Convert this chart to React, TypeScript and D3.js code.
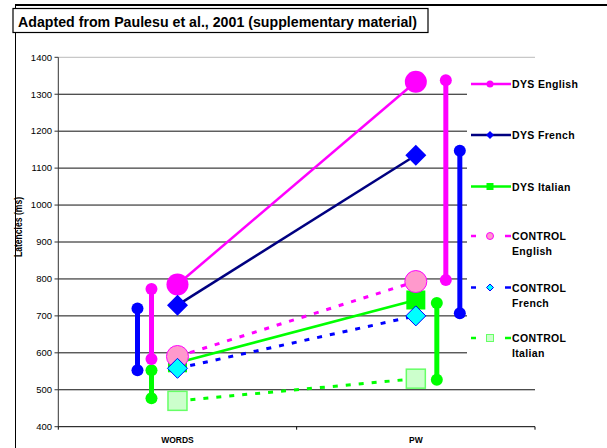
import React from "react";
import * as d3 from "d3";

const categories = ["WORDS", "PW"];
const yTicks = [400, 500, 600, 700, 800, 900, 1000, 1100, 1200, 1300, 1400];

const dysEnglish = [785, 1334];
const dysFrench = [729, 1135];
const dysItalian = [573, 743];
const ctrlEnglish = [590, 793];
const ctrlFrench = [558, 700];
const ctrlItalian = [470, 530];

// vertical ranges (low, high) per category
const rangeEnglishLow = [583, 797];
const rangeEnglishHigh = [773, 1338];
const rangeFrenchLow = [553, 707];
const rangeFrenchHigh = [720, 1147];
const rangeItalianLow = [477, 527];
const rangeItalianHigh = [553, 735];

const legendLabels = [
  ["DYS English"],
  ["DYS French"],
  ["DYS Italian"],
  ["CONTROL", "English"],
  ["CONTROL", "French"],
  ["CONTROL", "Italian"],
];

const W = 607;
const H = 448;
const FONT = "'Liberation Sans', Arial, sans-serif";

const x = d3.scaleBand<string>().domain(categories).range([58.3, 535]);
const y = d3.scaleLinear().domain([400, 1400]).range([426.7, 57.3]);
const cx = (c: string) => (x(c) as number) + x.bandwidth() / 2;

type Marker = "circle" | "diamond" | "square";

function MarkerShape({ kind, px, py, size, fill, stroke, sw }: { kind: Marker; px: number; py: number; size: number; fill: string; stroke: string; sw: number }) {
  if (kind === "circle") return <circle cx={px} cy={py} r={size} fill={fill} stroke={stroke} strokeWidth={sw} />;
  if (kind === "diamond")
    return (
      <path
        d={`M${px},${py - size}L${px + size},${py}L${px},${py + size}L${px - size},${py}Z`}
        fill={fill}
        stroke={stroke}
        strokeWidth={sw}
      />
    );
  return <rect x={px - size} y={py - size} width={size * 2} height={size * 2} fill={fill} stroke={stroke} strokeWidth={sw} />;
}

const series = [
  { values: dysEnglish, line: "#FF00FF", dash: undefined, kind: "circle" as Marker, size: 11, fill: "#FF00FF", stroke: "#FF00FF", sw: 0, lsize: 3.5 },
  { values: dysFrench, line: "#000080", dash: undefined, kind: "diamond" as Marker, size: 10.5, fill: "#0000FF", stroke: "#0000FF", sw: 0, lsize: 4 },
  { values: dysItalian, line: "#00FF00", dash: undefined, kind: "square" as Marker, size: 9.5, fill: "#00FF00", stroke: "#00FF00", sw: 0, lsize: 3.5 },
  { values: ctrlEnglish, line: "#FF00FF", dash: "5,8", kind: "circle" as Marker, size: 11, fill: "#FF99CC", stroke: "#FF00FF", sw: 1, lsize: 3.5 },
  { values: ctrlFrench, line: "#0000FF", dash: "5,8", kind: "diamond" as Marker, size: 10, fill: "#00FFFF", stroke: "#0000FF", sw: 1, lsize: 3.5 },
  { values: ctrlItalian, line: "#00FF00", dash: "5,8", kind: "square" as Marker, size: 9.5, fill: "#CCFFCC", stroke: "#66FF66", sw: 1.5, lsize: 3.5 },
];

const ranges = [
  { low: rangeItalianLow, high: rangeItalianHigh, color: "#00FF00", offsets: [-26, 21] },
  { low: rangeFrenchLow, high: rangeFrenchHigh, color: "#0000FF", offsets: [-40, 44] },
  { low: rangeEnglishLow, high: rangeEnglishHigh, color: "#FF00FF", offsets: [-26, 30] },
];

export default function App() {
  const line = d3
    .line<number>()
    .x((_, i) => cx(categories[i]))
    .y((d) => y(d));

  const legendY = [84, 135, 186.5, 236, 287.5, 338];

  return (
    <svg width={W} height={H} style={{ position: "absolute", left: 0, top: 0, background: "#fff" }} fontFamily={FONT}>
      <rect x={0} y={0} width={W} height={H} fill="#fff" />
      {/* outer frame */}
      <line x1={15} y1={5} x2={W} y2={5} stroke="#000" strokeWidth={2} />
      <line x1={15.5} y1={5} x2={15.5} y2={H} stroke="#000" strokeWidth={1} />
      {/* title box */}
      <rect x={13} y={8.5} width={415} height={24} fill="#fff" stroke="#000" strokeWidth={1.2} />
      <text x={18} y={26.5} fontSize={14.2} fontWeight="bold" fill="#000">
        Adapted from Paulesu et al., 2001 (supplementary material)
      </text>

      {/* gridlines */}
      {yTicks.slice(1).map((t) => (
        <line key={t} x1={58.3} x2={535} y1={y(t)} y2={y(t)} stroke={t === 1400 ? "#bbbbbb" : "#111"} strokeWidth={1} />
      ))}
      {/* axes */}
      <line x1={58.3} x2={58.3} y1={y(1400)} y2={y(400)} stroke="#333" strokeWidth={1} />
      <line x1={58.3} x2={535} y1={y(400)} y2={y(400)} stroke="#000" strokeWidth={1} />
      {yTicks.map((t) => (
        <g key={t}>
          <line x1={54.5} x2={58.3} y1={y(t)} y2={y(t)} stroke="#333" />
          <text x={52} y={y(t) + 3.3} fontSize={9.5} textAnchor="end" fill="#000">
            {t}
          </text>
        </g>
      ))}
      {[x("WORDS") as number, x("PW") as number, 535].map((v, i) => (
        <line key={i} x1={v} x2={v} y1={y(400)} y2={y(400) + 3} stroke="#000" />
      ))}
      {categories.map((c) => (
        <text key={c} x={cx(c)} y={443} fontSize={8.5} fontWeight="bold" textAnchor="middle" fill="#000">
          {c}
        </text>
      ))}
      <text
        transform={`translate(21.5,227) rotate(-90)`}
        fontSize={10}
        fontWeight="bold"
        textAnchor="middle"
        fill="#000"
        textLength={60}
        lengthAdjust="spacingAndGlyphs"
      >
        Latencies (ms)
      </text>

      {/* legend background covering gridlines */}
      <rect x={467} y={58} width={140} height={328} fill="#fff" />

      {/* range bars */}
      {ranges.map((r, ri) =>
        categories.map((c, i) => {
          const px = cx(c) + r.offsets[i];
          return (
            <g key={`${ri}-${c}`}>
              <line x1={px} x2={px} y1={y(r.low[i])} y2={y(r.high[i])} stroke={r.color} strokeWidth={5} />
              <circle cx={px} cy={y(r.low[i])} r={6} fill={r.color} />
              <circle cx={px} cy={y(r.high[i])} r={6} fill={r.color} />
            </g>
          );
        })
      )}

      {/* series lines and markers */}
      {series.map((s, si) => (
        <g key={si}>
          <path d={line(s.values) as string} fill="none" stroke={s.line} strokeWidth={s.dash ? 3 : 2.5} strokeDasharray={s.dash} />
          {s.values.map((v, i) => (
            <MarkerShape key={i} kind={s.kind} px={cx(categories[i])} py={y(v)} size={s.size} fill={s.fill} stroke={s.stroke} sw={s.sw} />
          ))}
        </g>
      ))}

      {/* legend */}
      {series.map((s, si) => {
        const ly = legendY[si];
        const lab = legendLabels[si];
        return (
          <g key={si}>
            {s.dash ? (
              <>
                <line x1={471} x2={476} y1={ly} y2={ly} stroke={s.line} strokeWidth={2.5} />
                <line x1={505} x2={511} y1={ly} y2={ly} stroke={s.line} strokeWidth={2.5} />
              </>
            ) : (
              <line x1={471} x2={511} y1={ly} y2={ly} stroke={s.line} strokeWidth={2.5} />
            )}
            <MarkerShape kind={s.kind} px={490} py={ly} size={s.lsize} fill={s.fill} stroke={s.stroke} sw={s.sw ? 1 : 0} />
            {lab.map((t, k) => (
              <text key={k} x={512} y={ly + 4 + k * 15} fontSize={10.5} fontWeight="bold" fill="#000" letterSpacing={0.35}>
                {t}
              </text>
            ))}
          </g>
        );
      })}
    </svg>
  );
}
